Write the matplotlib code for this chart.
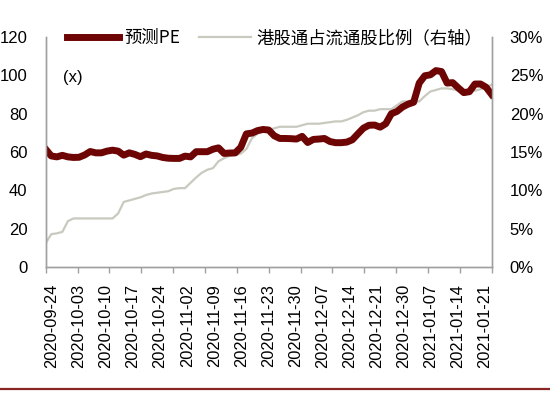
import matplotlib.pyplot as plt
import numpy as np
from matplotlib.lines import Line2D
from matplotlib.ticker import FuncFormatter

plt.rcParams['font.family'] = ['Liberation Sans', 'Noto Sans CJK SC', 'DejaVu Sans']

# 预测PE (left axis, x)
pe = [61.5, 58.0, 57.5, 58.3, 57.5, 57.2, 57.3, 58.5, 60.3, 59.6,
      59.6, 60.5, 61.0, 60.5, 58.4, 59.6, 58.8, 57.6, 59.0, 58.3,
      58.0, 57.2, 56.8, 56.7, 56.7, 57.9, 57.5, 60.2, 60.2, 60.2,
      61.5, 62.2, 59.3, 59.5, 59.6, 62.5, 69.5, 69.9, 71.2, 71.8,
      71.5, 68.5, 67.1, 67.1, 67.0, 66.8, 68.2, 65.0, 66.6, 66.8,
      67.1, 65.5, 64.9, 64.9, 65.2, 66.4, 69.5, 72.5, 74.0, 74.1,
      73.0, 74.8, 80.0, 81.2, 83.5, 85.0, 86.0, 96.0, 99.8, 100.3,
      102.5, 102.0, 96.0, 96.2, 93.5, 91.0, 91.5, 95.5, 95.5, 93.8,
      90.0]

# 港股通占流通股比例 (right axis, %)
ratio = [3.1, 4.3, 4.4, 4.6, 6.0, 6.35, 6.35, 6.35, 6.35, 6.35,
         6.35, 6.35, 6.35, 7.0, 8.5, 8.7, 8.9, 9.1, 9.4, 9.6,
         9.7, 9.8, 9.9, 10.2, 10.3, 10.3, 11.0, 11.7, 12.3, 12.7,
         12.9, 13.8, 14.2, 14.5, 14.6, 14.8, 15.4, 16.8, 17.4, 17.7,
         17.9, 18.1, 18.3, 18.3, 18.3, 18.3, 18.5, 18.7, 18.7, 18.7,
         18.8, 18.9, 19.0, 19.0, 19.2, 19.5, 19.8, 20.2, 20.4, 20.4,
         20.6, 20.6, 20.6, 21.1, 21.6, 21.6, 21.6, 21.6, 22.3, 22.9,
         23.1, 23.3, 23.3, 23.2, 23.0, 22.9, 22.9, 23.0, 23.2, 23.4,
         23.8]

date_labels = ['2020-09-24', '2020-10-03', '2020-10-10', '2020-10-17',
               '2020-10-24', '2020-11-02', '2020-11-09', '2020-11-16',
               '2020-11-23', '2020-11-30', '2020-12-07', '2020-12-14',
               '2020-12-21', '2020-12-30', '2021-01-07', '2021-01-14',
               '2021-01-21']

x = np.arange(len(pe))
axis_col = '#A0A0A0'

fig = plt.figure(figsize=(5.5, 3.94), dpi=100)
ax = fig.add_axes([0.083, 0.322, 0.811, 0.584])
ax2 = ax.twinx()

l2, = ax2.plot(x, ratio, color='#C9C9BF', lw=1.6, label='港股通占流通股比例（右轴）')
l1, = ax.plot(x, pe, color='#6E0505', lw=5, solid_joinstyle='round',
              label='预测PE')
ax.set_zorder(ax2.get_zorder() + 1)
ax.patch.set_visible(False)

ax.set_xlim(0, len(pe) - 1)
ax.set_ylim(0, 120)
ax.set_yticks(np.arange(0, 121, 20))
ax2.set_ylim(0, 30)
ax2.set_yticks(np.arange(0, 31, 5))
ax2.yaxis.set_major_formatter(FuncFormatter(lambda v, p: f'{v:.0f}%'))

# tick marks and labels are spaced differently in the original
ax.set_xticks(np.linspace(0, len(pe) - 1, 15), minor=True)
ax.set_xticks(np.linspace(1.1, len(pe) - 2.2, len(date_labels)))
ax.set_xticklabels(date_labels, rotation=90, fontsize=11.8)
ax.tick_params(axis='x', which='major', length=0, pad=12)
ax.tick_params(axis='x', which='minor', length=4, color=axis_col, width=1)
ax.tick_params(axis='y', length=0, labelsize=12, pad=13)
ax2.tick_params(axis='y', length=0, labelsize=12, pad=13)

for a in (ax, ax2):
    a.spines['top'].set_visible(False)
    for s in ('left', 'right', 'bottom'):
        a.spines[s].set_color(axis_col)
        a.spines[s].set_linewidth(1)

ax.text(0.04, 0.826, '(x)', transform=ax.transAxes, fontsize=12,
        va='center', ha='left')

fig.legend(handles=[l1, l2], loc='center left', bbox_to_anchor=(0.093, 0.903),
           ncol=2, frameon=False, handlelength=3.0, handletextpad=0.3,
           columnspacing=1.1, prop={'family': ['Noto Sans CJK SC', 'DejaVu Sans'], 'size': 12.5})

fig.add_artist(Line2D([0, 1], [0.012, 0.012], transform=fig.transFigure,
                      color='#8B2525', lw=1.6))

fig.savefig('out.png', dpi=100)
